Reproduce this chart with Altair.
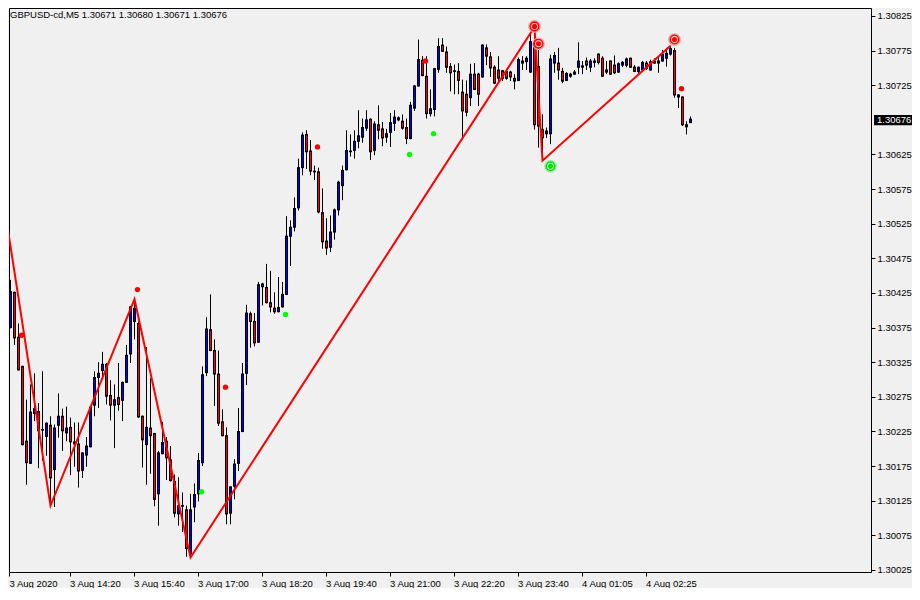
import json
import altair as alt
import pandas as pd

FONT = "Liberation Sans"

symbol_title = "GBPUSD-cd,M5  1.30671 1.30680 1.30671 1.30676"

opens = [
    1.30424, 1.30375, 1.30426, 1.30361, 1.30319, 1.30211, 1.30179, 1.30251, 1.30254, 1.30228,
    1.30218, 1.30234, 1.30170, 1.30234, 1.30247, 1.30223, 1.30231, 1.30210, 1.30207, 1.30169,
    1.30191, 1.30203, 1.30263, 1.30303, 1.30313, 1.30322, 1.30277, 1.30263, 1.30274, 1.30270,
    1.30296, 1.30337, 1.30384, 1.30381, 1.30247, 1.30206, 1.30230, 1.30222, 1.30135, 1.30193,
    1.30211, 1.30184, 1.30153, 1.30106, 1.30118, 1.30112, 1.30048, 1.30116, 1.30135, 1.30180,
    1.30310, 1.30372, 1.30342, 1.30308, 1.30239, 1.30219, 1.30107, 1.30146, 1.30179, 1.30225,
    1.30309, 1.30395, 1.30384, 1.30354, 1.30438, 1.30433, 1.30411, 1.30403, 1.30398, 1.30405,
    1.30423, 1.30507, 1.30520, 1.30548, 1.30606, 1.30654, 1.30630, 1.30601, 1.30600, 1.30541,
    1.30500, 1.30491, 1.30513, 1.30545, 1.30580, 1.30603, 1.30630, 1.30631, 1.30644, 1.30650,
    1.30663, 1.30676, 1.30631, 1.30668, 1.30662, 1.30650, 1.30657, 1.30670, 1.30678, 1.30673,
    1.30664, 1.30648, 1.30692, 1.30724, 1.30761, 1.30738, 1.30684, 1.30690, 1.30748, 1.30783,
    1.30773, 1.30752, 1.30746, 1.30745, 1.30715, 1.30712, 1.30707, 1.30741, 1.30741, 1.30737,
    1.30779, 1.30766, 1.30751, 1.30747, 1.30746, 1.30745, 1.30744, 1.30735, 1.30732, 1.30760,
    1.30759, 1.30744, 1.30786, 1.30752, 1.30661, 1.30655, 1.30655, 1.30757, 1.30757, 1.30745,
    1.30732, 1.30738, 1.30741, 1.30751, 1.30751, 1.30760, 1.30751, 1.30758, 1.30770, 1.30764,
    1.30747, 1.30760, 1.30754, 1.30744, 1.30754, 1.30754, 1.30764, 1.30751, 1.30745, 1.30747,
    1.30757, 1.30747, 1.30760, 1.30760, 1.30760, 1.30764, 1.30770, 1.30775, 1.30711, 1.30708,
    1.30665, 1.30671,
]
highs = [
    1.30467, 1.30444, 1.30427, 1.30381, 1.30320, 1.30271, 1.30293, 1.30309, 1.30266, 1.30312,
    1.30238, 1.30247, 1.30235, 1.30280, 1.30258, 1.30261, 1.30245, 1.30238, 1.30238, 1.30195,
    1.30217, 1.30261, 1.30312, 1.30325, 1.30340, 1.30324, 1.30299, 1.30293, 1.30324, 1.30297,
    1.30350, 1.30406, 1.30416, 1.30384, 1.30248, 1.30347, 1.30302, 1.30223, 1.30197, 1.30239,
    1.30217, 1.30204, 1.30163, 1.30159, 1.30137, 1.30118, 1.30135, 1.30150, 1.30194, 1.30319,
    1.30390, 1.30423, 1.30358, 1.30342, 1.30257, 1.30231, 1.30146, 1.30185, 1.30259, 1.30324,
    1.30408, 1.30398, 1.30396, 1.30441, 1.30440, 1.30467, 1.30457, 1.30426, 1.30448, 1.30441,
    1.30536, 1.30530, 1.30563, 1.30619, 1.30657, 1.30660, 1.30646, 1.30609, 1.30606, 1.30576,
    1.30533, 1.30537, 1.30547, 1.30587, 1.30609, 1.30660, 1.30654, 1.30660, 1.30689, 1.30677,
    1.30689, 1.30677, 1.30673, 1.30696, 1.30672, 1.30662, 1.30685, 1.30689, 1.30680, 1.30683,
    1.30677, 1.30701, 1.30725, 1.30791, 1.30767, 1.30767, 1.30719, 1.30750, 1.30793, 1.30793,
    1.30781, 1.30757, 1.30755, 1.30757, 1.30733, 1.30732, 1.30756, 1.30757, 1.30743, 1.30784,
    1.30784, 1.30773, 1.30754, 1.30767, 1.30747, 1.30747, 1.30746, 1.30741, 1.30765, 1.30767,
    1.30767, 1.30800, 1.30809, 1.30783, 1.30683, 1.30664, 1.30769, 1.30773, 1.30779, 1.30750,
    1.30744, 1.30743, 1.30747, 1.30787, 1.30760, 1.30765, 1.30763, 1.30764, 1.30771, 1.30767,
    1.30760, 1.30761, 1.30768, 1.30758, 1.30760, 1.30765, 1.30765, 1.30754, 1.30752, 1.30760,
    1.30760, 1.30762, 1.30764, 1.30767, 1.30776, 1.30779, 1.30782, 1.30779, 1.30712, 1.30709,
    1.30673, 1.30680,
]
lows = [
    1.30370, 1.30374, 1.30350, 1.30313, 1.30205, 1.30148, 1.30178, 1.30240, 1.30172, 1.30183,
    1.30190, 1.30118, 1.30116, 1.30216, 1.30197, 1.30211, 1.30162, 1.30174, 1.30144, 1.30158,
    1.30174, 1.30202, 1.30247, 1.30259, 1.30300, 1.30264, 1.30241, 1.30201, 1.30255, 1.30240,
    1.30295, 1.30324, 1.30358, 1.30245, 1.30173, 1.30148, 1.30164, 1.30117, 1.30089, 1.30192,
    1.30155, 1.30153, 1.30101, 1.30089, 1.30080, 1.30044, 1.30043, 1.30094, 1.30124, 1.30175,
    1.30305, 1.30341, 1.30262, 1.30233, 1.30218, 1.30091, 1.30091, 1.30127, 1.30168, 1.30224,
    1.30292, 1.30346, 1.30348, 1.30353, 1.30407, 1.30410, 1.30397, 1.30395, 1.30397, 1.30404,
    1.30422, 1.30464, 1.30514, 1.30544, 1.30595, 1.30604, 1.30595, 1.30588, 1.30540, 1.30489,
    1.30480, 1.30484, 1.30502, 1.30537, 1.30559, 1.30602, 1.30622, 1.30619, 1.30634, 1.30642,
    1.30659, 1.30617, 1.30624, 1.30647, 1.30637, 1.30642, 1.30636, 1.30659, 1.30673, 1.30661,
    1.30640, 1.30647, 1.30688, 1.30723, 1.30738, 1.30677, 1.30680, 1.30680, 1.30743, 1.30773,
    1.30743, 1.30716, 1.30712, 1.30712, 1.30647, 1.30680, 1.30695, 1.30718, 1.30695, 1.30736,
    1.30754, 1.30737, 1.30727, 1.30728, 1.30731, 1.30733, 1.30731, 1.30719, 1.30731, 1.30747,
    1.30747, 1.30743, 1.30661, 1.30635, 1.30616, 1.30649, 1.30640, 1.30743, 1.30733, 1.30728,
    1.30731, 1.30736, 1.30740, 1.30741, 1.30741, 1.30747, 1.30744, 1.30751, 1.30755, 1.30737,
    1.30741, 1.30740, 1.30741, 1.30743, 1.30751, 1.30751, 1.30750, 1.30744, 1.30741, 1.30745,
    1.30747, 1.30746, 1.30756, 1.30743, 1.30759, 1.30752, 1.30768, 1.30707, 1.30692, 1.30666,
    1.30654, 1.30671,
]
closes = [
    1.30372, 1.30427, 1.30360, 1.30314, 1.30206, 1.30180, 1.30253, 1.30258, 1.30226, 1.30227,
    1.30237, 1.30158, 1.30230, 1.30247, 1.30226, 1.30230, 1.30210, 1.30207, 1.30168, 1.30194,
    1.30204, 1.30260, 1.30303, 1.30309, 1.30322, 1.30276, 1.30263, 1.30271, 1.30264, 1.30296,
    1.30335, 1.30405, 1.30403, 1.30246, 1.30213, 1.30231, 1.30219, 1.30127, 1.30194, 1.30209,
    1.30187, 1.30154, 1.30107, 1.30118, 1.30117, 1.30056, 1.30112, 1.30134, 1.30183, 1.30307,
    1.30373, 1.30342, 1.30308, 1.30237, 1.30219, 1.30106, 1.30145, 1.30178, 1.30225, 1.30308,
    1.30396, 1.30384, 1.30353, 1.30437, 1.30434, 1.30411, 1.30405, 1.30398, 1.30404, 1.30423,
    1.30507, 1.30520, 1.30547, 1.30606, 1.30653, 1.30629, 1.30601, 1.30600, 1.30542, 1.30499,
    1.30490, 1.30513, 1.30545, 1.30585, 1.30602, 1.30631, 1.30629, 1.30644, 1.30652, 1.30664,
    1.30675, 1.30629, 1.30669, 1.30660, 1.30649, 1.30655, 1.30671, 1.30679, 1.30675, 1.30663,
    1.30648, 1.30696, 1.30724, 1.30762, 1.30739, 1.30684, 1.30691, 1.30749, 1.30781, 1.30774,
    1.30751, 1.30743, 1.30745, 1.30732, 1.30688, 1.30686, 1.30741, 1.30719, 1.30712, 1.30783,
    1.30767, 1.30750, 1.30728, 1.30735, 1.30735, 1.30735, 1.30737, 1.30731, 1.30762, 1.30757,
    1.30764, 1.30788, 1.30668, 1.30666, 1.30649, 1.30659, 1.30763, 1.30768, 1.30747, 1.30731,
    1.30742, 1.30741, 1.30744, 1.30760, 1.30753, 1.30754, 1.30760, 1.30760, 1.30758, 1.30738,
    1.30744, 1.30741, 1.30743, 1.30756, 1.30758, 1.30763, 1.30751, 1.30745, 1.30751, 1.30758,
    1.30749, 1.30759, 1.30757, 1.30757, 1.30770, 1.30771, 1.30778, 1.30711, 1.30708, 1.30668,
    1.30668, 1.30676,
]

time_labels = ["3 Aug 2020", "3 Aug 14:20", "3 Aug 15:40", "3 Aug 17:00", "3 Aug 18:20",
               "3 Aug 19:40", "3 Aug 21:00", "3 Aug 22:20", "3 Aug 23:40", "4 Aug 01:05",
               "4 Aug 02:25"]
label_bars = [0, 16, 32, 48, 64, 80, 96, 112, 128, 144, 160]

price_ticks = [1.30025, 1.30075, 1.30125, 1.30175, 1.30225, 1.30275, 1.30325, 1.30375,
               1.30425, 1.30475, 1.30525, 1.30575, 1.30625, 1.30725, 1.30775, 1.30825]
last_price = 1.30676

zigzag_bars = [0, 11, 32, 46, 132, 134, 166]
zigzag_prices = [1.30530, 1.30118, 1.30416, 1.30043, 1.30809, 1.30616, 1.30782]

red_dot_bars = [4, 33, 55, 78, 105, 169]
red_dot_prices = [1.30364, 1.30430, 1.30289, 1.30636, 1.30760, 1.30720]
green_dot_bars = [49, 70, 101, 107]
green_dot_prices = [1.30138, 1.30394, 1.30625, 1.30655]

red_target_bars = [132, 133, 167]
red_target_prices = [1.30810, 1.30785, 1.30791]
green_target_bars = [136]
green_target_prices = [1.30608]

# ---------------------------------------------------------------------------
W, H = 862, 564
BG = "#f0f0f0"
PX_PER_BAR = 4

candles = pd.DataFrame({
    "bar": list(range(len(opens))),
    "open": opens, "high": highs, "low": lows, "close": closes,
})
candles["top"] = candles[["open", "close"]].max(axis=1)
candles["bottom"] = candles[["open", "close"]].min(axis=1)
candles["dir"] = ["up" if c >= o else "down" for o, c in zip(opens, closes)]
inner = candles[(candles["top"] - candles["bottom"]) >= 0.00003]

zig = pd.DataFrame({"bar": zigzag_bars, "price": zigzag_prices})
rdots = pd.DataFrame({"bar": red_dot_bars, "price": red_dot_prices})
gdots = pd.DataFrame({"bar": green_dot_bars, "price": green_dot_prices})
rtar = pd.DataFrame({"bar": red_target_bars, "price": red_target_prices})
gtar = pd.DataFrame({"bar": green_target_bars, "price": green_target_prices})
lastdf = pd.DataFrame({"price": [last_price], "label": [f"{last_price:.5f}"]})
titledf = pd.DataFrame({"t": [symbol_title]})

x0 = 0.625
x_scale = alt.Scale(domain=[x0, x0 + W / PX_PER_BAR], nice=False, zero=False, padding=0)
y_scale = alt.Scale(domain=[1.3002211, 1.3083655], nice=False, zero=False, padding=0)

tick_vals = [max(b - 0.25, x0 + 0.005) for b in label_bars]
label_expr = json.dumps(time_labels) + "[round(datum.value / 16)]"

x_axis = alt.Axis(values=tick_vals, labelExpr=label_expr, title=None, grid=False,
                  domain=False, tickSize=4, tickColor="black", labelAlign="left",
                  labelBaseline="top", labelPadding=2, labelOverlap=False,
                  labelFlush=False, labelFont=FONT, labelFontSize=9.5,
                  labelColor="black", orient="bottom")
y_axis = alt.Axis(values=price_ticks, format=".5f", title=None, grid=False,
                  domain=False, tickSize=4, tickColor="black", labelPadding=2,
                  labelFont=FONT, labelFontSize=9.5, labelColor="black",
                  orient="right", labelOverlap=False)


def X(field="bar"):
    return alt.X(f"{field}:Q", scale=x_scale, axis=x_axis)


def Y(field):
    return alt.Y(f"{field}:Q", scale=y_scale, axis=y_axis)


wicks = alt.Chart(candles).mark_rule(color="black", strokeWidth=1, clip=True).encode(
    x=X(), y=Y("low"), y2="high:Q")

bodies_black = alt.Chart(candles).mark_bar(
    size=3, color="black", clip=True, yOffset=-0.5, y2Offset=0.5).encode(
    x=X(), y=Y("top"), y2="bottom:Q")

bodies_fill = alt.Chart(inner).mark_bar(
    size=1, clip=True, yOffset=1, y2Offset=-1).encode(
    x=X(), y=Y("top"), y2="bottom:Q",
    color=alt.Color("dir:N", scale=alt.Scale(domain=["up", "down"], range=["#0000ff", "#ff0000"]),
                    legend=None))

zigzag = alt.Chart(zig).mark_line(color="#ff0000", strokeWidth=2, clip=True).encode(
    x=X(), y=Y("price"))

red_dots = alt.Chart(rdots).mark_circle(color="#ff0000", size=28, opacity=1, xOffset=-1).encode(
    x=X(), y=Y("price"))
green_dots = alt.Chart(gdots).mark_circle(color="#00ff00", size=28, opacity=1, xOffset=-1).encode(
    x=X(), y=Y("price"))


def target(df, col, halo, gap):
    outer = alt.Chart(df).mark_point(shape="circle", size=130, filled=False, stroke=halo,
                                     strokeWidth=1.2, opacity=1).encode(x=X(), y=Y("price"))
    ring = alt.Chart(df).mark_point(shape="circle", size=72, filled=True, fill=gap,
                                    stroke=col, strokeWidth=1.6, opacity=1).encode(x=X(), y=Y("price"))
    core = alt.Chart(df).mark_circle(color=col, size=26, opacity=1).encode(x=X(), y=Y("price"))
    return [outer, ring, core]


price_box = alt.Chart(lastdf).mark_point(
    shape="M-1,-0.27H1V0.27H-1Z", size=1444, filled=True, color="black", opacity=1,
    strokeWidth=0, yOffset=1).encode(x=alt.value(W + 22), y=Y("price"))
price_text = alt.Chart(lastdf).mark_text(
    align="left", baseline="middle", color="white", font=FONT, fontSize=9.5, yOffset=1).encode(
    x=alt.value(W + 6), y=Y("price"), text="label:N")

title_text = alt.Chart(titledf).mark_text(
    align="left", baseline="top", color="black", font=FONT, fontSize=9.5).encode(
    x=alt.value(1), y=alt.value(1.5), text="t:N")

layers = [wicks, bodies_black, bodies_fill, zigzag, red_dots, green_dots]
layers += target(rtar, "#ff0000", "#f59a9a", "#fbe6e6")
layers += target(gtar, "#00e000", "#90f090", "#e4fbe4")
layers += [price_box, price_text, title_text]

chart = alt.layer(*layers).properties(
    width=W, height=H, padding=0, background=BG
).configure_view(stroke="black", strokeWidth=1, fill=BG)

chart.save("out.html", embed_options={"renderer": "svg", "actions": False})
